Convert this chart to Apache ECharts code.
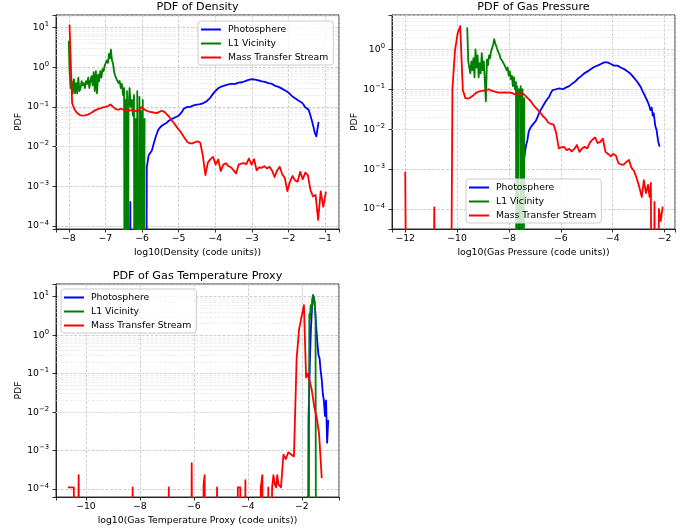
<!DOCTYPE html>
<html><head><meta charset="utf-8">
<script src="https://cdn.jsdelivr.net/npm/echarts@6/dist/echarts.min.js"></script>
<style>html,body{margin:0;padding:0;background:#fff}#c{width:698px;height:529px}</style>
</head><body><div id="c"></div>
<script>
// ---------------- DATA ----------------
const seriesNames = ['Photosphere', 'L1 Vicinity', 'Mass Transfer Stream'];
const panelTitles = ['PDF of Density', 'PDF of Gas Pressure', 'PDF of Gas Temperature Proxy'];
const xAxisNames = ['log10(Density (code units))', 'log10(Gas Pressure (code units))', 'log10(Gas Temperature Proxy (code units))'];

// Density panel: [log10 value, PDF]; PDF 0 = empty bin
const densityPhotosphere = [
  [-6.36,0],[-6.32,0.0004],[-6.28,0],[-5.90,0],[-5.87,0.003],[-5.82,0.006],[-5.78,0.0055],[-5.73,0.008],
  [-5.68,0.012],[-5.64,0.016],[-5.59,0.022],[-5.55,0.027],[-5.50,0.031],[-5.45,0.034],[-5.41,0.036],
  [-5.36,0.038],[-5.32,0.04],[-5.27,0.045],[-5.23,0.05],[-5.18,0.05],[-5.14,0.053],[-5.09,0.055],
  [-5.05,0.058],[-5.00,0.06],[-4.95,0.065],[-4.91,0.075],[-4.86,0.09],[-4.82,0.1],[-4.77,0.1],
  [-4.73,0.105],[-4.68,0.1],[-4.64,0.102],[-4.59,0.11],[-4.55,0.108],[-4.50,0.115],[-4.45,0.12],
  [-4.41,0.118],[-4.36,0.12],[-4.32,0.125],[-4.27,0.13],[-4.23,0.14],[-4.18,0.155],[-4.14,0.17],
  [-4.09,0.19],[-4.05,0.22],[-4.00,0.25],[-3.95,0.27],[-3.91,0.3],[-3.86,0.32],[-3.82,0.33],
  [-3.77,0.34],[-3.73,0.35],[-3.68,0.36],[-3.64,0.37],[-3.59,0.37],[-3.55,0.38],[-3.50,0.37],
  [-3.45,0.38],[-3.41,0.4],[-3.36,0.41],[-3.32,0.42],[-3.27,0.42],[-3.23,0.44],[-3.18,0.45],
  [-3.14,0.47],[-3.09,0.48],[-3.05,0.49],[-3.00,0.5],[-2.95,0.5],[-2.91,0.49],[-2.86,0.48],
  [-2.82,0.47],[-2.77,0.46],[-2.73,0.44],[-2.68,0.44],[-2.64,0.43],[-2.59,0.42],[-2.55,0.4],
  [-2.50,0.39],[-2.45,0.38],[-2.41,0.36],[-2.36,0.34],[-2.32,0.33],[-2.27,0.32],[-2.23,0.31],
  [-2.18,0.29],[-2.14,0.27],[-2.09,0.26],[-2.05,0.25],[-2.00,0.23],[-1.95,0.21],[-1.91,0.19],
  [-1.86,0.18],[-1.82,0.165],[-1.77,0.155],[-1.73,0.145],[-1.68,0.14],[-1.64,0.13],[-1.59,0.115],
  [-1.55,0.1],[-1.50,0.095],[-1.45,0.085],[-1.41,0.065],[-1.36,0.045],[-1.32,0.032],[-1.28,0.022],
  [-1.24,0.018],[-1.18,0.04]
];
const densityL1 = [
  [-8.00,4.5],[-7.98,0.8],[-7.95,0.3],[-7.92,0.45],[-7.89,0.22],[-7.86,0.5],[-7.83,0.22],[-7.80,0.4],
  [-7.77,0.22],[-7.74,0.55],[-7.71,0.25],[-7.68,0.3],[-7.65,0.45],[-7.62,0.35],[-7.59,0.4],[-7.56,0.3],
  [-7.53,0.45],[-7.50,0.38],[-7.47,0.55],[-7.44,0.3],[-7.41,0.45],[-7.38,0.6],[-7.35,0.35],[-7.32,0.75],
  [-7.29,0.25],[-7.26,0.8],[-7.23,0.22],[-7.20,0.65],[-7.17,0.45],[-7.14,0.8],[-7.11,0.55],[-7.08,0.9],
  [-7.05,0.8],[-7.02,1.1],[-6.99,1.0],[-6.96,1.5],[-6.93,1.3],[-6.90,2.2],[-6.87,1.7],[-6.85,2.8],
  [-6.82,1.5],[-6.79,1.2],[-6.76,0.75],[-6.73,0.6],[-6.70,0.55],[-6.67,0.45],[-6.64,0.4],[-6.61,0.45],
  [-6.58,0.3],[-6.55,0.38],[-6.52,0.2],[-6.49,0.3],[-6.47,0],[-6.45,0.15],[-6.43,0],[-6.41,0.25],
  [-6.39,0],[-6.37,0.08],[-6.34,0.3],[-6.31,0.1],[-6.28,0.15],[-6.25,0.06],[-6.22,0.2],[-6.20,0],
  [-6.17,0.05],[-6.15,0],[-6.13,0.25],[-6.10,0],[-6.07,0.18],[-6.05,0],[-6.02,0.08],[-6.00,0],
  [-5.98,0.15],[-5.96,0],[-5.93,0.05]
];
const densityStream = [
  [-7.98,11.5],[-7.91,0.125],[-7.84,0.085],[-7.77,0.07],[-7.70,0.062],[-7.63,0.06],[-7.56,0.061],
  [-7.49,0.064],[-7.42,0.068],[-7.35,0.075],[-7.28,0.082],[-7.21,0.088],[-7.14,0.092],[-7.07,0.098],
  [-7.00,0.1],[-6.93,0.105],[-6.86,0.115],[-6.79,0.1],[-6.72,0.088],[-6.65,0.085],[-6.58,0.09],
  [-6.51,0.086],[-6.44,0.082],[-6.37,0.08],[-6.30,0.083],[-6.23,0.08],[-6.16,0.079],[-6.09,0.08],
  [-6.02,0.1],[-5.95,0.088],[-5.88,0.08],[-5.81,0.076],[-5.74,0.074],[-5.67,0.072],[-5.60,0.07],
  [-5.53,0.075],[-5.46,0.08],[-5.39,0.075],[-5.32,0.065],[-5.25,0.055],[-5.18,0.045],[-5.11,0.037],
  [-5.04,0.03],[-4.97,0.025],[-4.90,0.02],[-4.83,0.016],[-4.76,0.013],[-4.69,0.012],[-4.62,0.012],
  [-4.55,0.013],[-4.48,0.0135],[-4.41,0.0125],[-4.34,0.006],[-4.27,0.0019],[-4.20,0.004],[-4.13,0.0048],
  [-4.06,0.0055],[-3.99,0.0035],[-3.92,0.0047],[-3.85,0.0024],[-3.78,0.0035],[-3.71,0.0038],
  [-3.64,0.0032],[-3.57,0.003],[-3.50,0.0025],[-3.43,0.0021],[-3.36,0.0035],[-3.29,0.0037],
  [-3.22,0.0038],[-3.15,0.0036],[-3.08,0.005],[-3.01,0.0035],[-2.94,0.0048],[-2.87,0.0025],
  [-2.80,0.003],[-2.73,0.0029],[-2.66,0.0032],[-2.59,0.0028],[-2.52,0.0031],[-2.45,0.0025],
  [-2.38,0.0017],[-2.31,0.0025],[-2.24,0.0031],[-2.17,0.002],[-2.10,0.0016],[-2.03,0.00075],
  [-1.96,0.0013],[-1.89,0.0018],[-1.82,0.0014],[-1.75,0.0013],[-1.68,0.0023],[-1.61,0.0015],
  [-1.54,0.0022],[-1.47,0.0019],[-1.40,0.0008],[-1.33,0.00055],[-1.26,0.0006],[-1.19,0.00014],
  [-1.12,0.00074],[-1.05,0.0003],[-0.98,0.0007]
];

// Gas pressure panel
const pressurePhotosphere = [
  [-7.62,0],[-7.58,0.0002],[-7.53,0],[-7.48,0],[-7.45,0.0008],[-7.42,0.0017],[-7.38,0.0027],[-7.34,0.004],
  [-7.29,0.0053],[-7.24,0.0087],[-7.17,0.011],[-7.10,0.0126],[-7.03,0.014],[-6.97,0.016],[-6.90,0.02],
  [-6.84,0.025],[-6.78,0.03],[-6.71,0.036],[-6.65,0.042],[-6.58,0.05],[-6.52,0.057],[-6.45,0.065],
  [-6.39,0.08],[-6.32,0.095],[-6.26,0.09],[-6.19,0.1],[-6.13,0.1],[-6.06,0.105],[-6.00,0.095],
  [-5.93,0.1],[-5.87,0.1],[-5.81,0.11],[-5.74,0.115],[-5.68,0.12],[-5.62,0.127],[-5.55,0.14],
  [-5.49,0.15],[-5.43,0.16],[-5.36,0.18],[-5.30,0.2],[-5.23,0.21],[-5.17,0.23],[-5.10,0.25],
  [-5.04,0.27],[-4.97,0.28],[-4.91,0.3],[-4.84,0.32],[-4.78,0.33],[-4.72,0.36],[-4.66,0.37],
  [-4.59,0.39],[-4.53,0.41],[-4.46,0.43],[-4.40,0.45],[-4.33,0.47],[-4.27,0.48],[-4.20,0.47],
  [-4.14,0.45],[-4.07,0.43],[-4.01,0.4],[-3.95,0.39],[-3.88,0.4],[-3.82,0.39],[-3.75,0.37],
  [-3.69,0.35],[-3.62,0.34],[-3.56,0.32],[-3.49,0.3],[-3.43,0.28],[-3.36,0.26],[-3.30,0.24],
  [-3.23,0.22],[-3.17,0.19],[-3.10,0.17],[-3.04,0.15],[-2.98,0.13],[-2.91,0.11],[-2.85,0.09],
  [-2.79,0.075],[-2.72,0.06],[-2.66,0.05],[-2.60,0.04],[-2.55,0.03],[-2.50,0.035],[-2.46,0.022],
  [-2.42,0.025],[-2.36,0.012],[-2.31,0.0095],[-2.25,0.005],[-2.20,0.0038]
];
const pressureL1 = [
  [-9.61,3.4],[-9.57,0.5],[-9.53,0.35],[-9.49,0.25],[-9.45,0.5],[-9.41,0.3],[-9.37,0.6],[-9.33,0.2],
  [-9.29,1.0],[-9.25,0.35],[-9.21,0.7],[-9.17,0.2],[-9.13,0.45],[-9.09,0.25],[-9.05,0.8],[-9.01,0.3],
  [-8.97,0.5],[-8.93,0.15],[-8.89,0.05],[-8.85,0.55],[-8.81,0.4],[-8.77,0.7],[-8.73,0.6],[-8.69,0.9],
  [-8.65,0.85],[-8.61,1.3],[-8.57,1.8],[-8.53,1.4],[-8.49,1.2],[-8.45,1.0],[-8.41,0.85],[-8.37,0.75],
  [-8.33,0.6],[-8.29,0.65],[-8.25,0.5],[-8.21,0.55],[-8.17,0.4],[-8.13,0.42],[-8.09,0.3],[-8.05,0.35],
  [-8.01,0.22],[-7.97,0.28],[-7.93,0.18],[-7.89,0.22],[-7.85,0.12],[-7.81,0.2],[-7.77,0.1],[-7.73,0.15],
  [-7.71,0],[-7.69,0.12],[-7.66,0],[-7.62,0.1],[-7.58,0.06],[-7.55,0.12],[-7.51,0],[-7.48,0.1],
  [-7.45,0],[-7.41,0.06]
];
const pressureStream = [
  [-12.00,0.00083],[-11.90,0],[-10.98,0],[-10.88,0.00011],[-10.78,0],[-10.28,0],[-10.18,0.105],
  [-10.08,0.96],[-9.98,2.5],[-9.88,3.8],[-9.78,0.095],[-9.68,0.06],[-9.58,0.058],[-9.48,0.063],
  [-9.38,0.07],[-9.28,0.08],[-9.18,0.087],[-9.08,0.09],[-8.98,0.092],[-8.88,0.095],[-8.78,0.1],
  [-8.68,0.092],[-8.58,0.088],[-8.48,0.085],[-8.38,0.082],[-8.28,0.082],[-8.18,0.083],[-8.08,0.082],
  [-7.98,0.084],[-7.88,0.08],[-7.78,0.075],[-7.68,0.08],[-7.58,0.075],[-7.48,0.08],[-7.38,0.07],
  [-7.28,0.06],[-7.18,0.052],[-7.08,0.042],[-6.98,0.035],[-6.88,0.03],[-6.78,0.025],[-6.68,0.021],
  [-6.58,0.018],[-6.48,0.0145],[-6.38,0.0135],[-6.28,0.013],[-6.18,0.008],[-6.08,0.0033],
  [-5.98,0.0035],[-5.88,0.0036],[-5.78,0.003],[-5.68,0.0032],[-5.58,0.0028],[-5.48,0.0032],
  [-5.38,0.004],[-5.28,0.0027],[-5.18,0.0033],[-5.08,0.0036],[-4.98,0.0033],[-4.88,0.0046],
  [-4.78,0.0055],[-4.68,0.0062],[-4.58,0.0045],[-4.48,0.0048],[-4.38,0.0058],[-4.28,0.0027],
  [-4.18,0.0024],[-4.08,0.0021],[-3.98,0.0024],[-3.88,0.0022],[-3.78,0.0014],[-3.68,0.0013],
  [-3.58,0.0013],[-3.48,0.0015],[-3.38,0.0017],[-3.28,0.0011],[-3.18,0.0009],[-3.08,0.0006],
  [-2.98,0.00036],[-2.88,0.0002],[-2.80,0.00053],[-2.72,0.00025],[-2.64,0.0004],[-2.58,0.0002],
  [-2.53,0.00045],[-2.47,0],[-2.39,0.00015],[-2.31,0],[-2.22,0.0001],[-2.15,0.00005],[-2.08,0.00011]
];

// Gas temperature proxy panel
const temperaturePhotosphere = [
  [-1.79,0],[-1.75,0.007],[-1.70,0.2],[-1.66,1.5],[-1.62,5],[-1.58,11],[-1.54,9],[-1.50,4],[-1.46,1.5],
  [-1.42,0.6],[-1.38,0.3],[-1.34,0.25],[-1.30,0.12],[-1.26,0.07],[-1.22,0.03],[-1.18,0.02],
  [-1.14,0.008],[-1.10,0.02],[-1.06,0.0016],[-1.02,0.006]
];
const temperatureL1 = [
  [-1.76,0],[-1.72,3.5],[-1.70,2.5],[-1.67,6],[-1.64,4],[-1.61,9],[-1.58,11],[-1.55,10],[-1.52,7],
  [-1.49,3],[-1.46,0]
];
const temperatureStream = [
  [-10.64,0.00011],[-10.55,0.00011],[-10.45,0.00011],[-10.38,0],[-10.32,0],[-10.27,0.00023],[-10.20,0],
  [-8.32,0],[-8.27,0.00011],[-8.22,0],[-6.98,0],[-6.93,0.00011],[-6.88,0],[-6.13,0],[-6.08,0.00047],
  [-6.03,0],[-5.68,0],[-5.64,0.00013],[-5.60,0.00023],[-5.55,0],[-5.19,0],[-5.14,0.00011],[-5.09,0],
  [-4.42,0],[-4.37,0.00011],[-4.28,0.00011],[-4.23,0],[-4.14,0],[-4.09,0.00017],[-4.04,0],[-3.58,0],
  [-3.52,0.00011],[-3.46,0.00023],[-3.40,0],[-3.30,0],[-3.24,0.00011],[-3.18,0],[-3.10,0.00011],
  [-3.05,0.00023],[-3.00,0.00013],[-2.95,0.00011],[-2.91,0.00023],[-2.86,0.00013],[-2.77,0.00011],
  [-2.68,0.00078],[-2.59,0.0006],[-2.50,0.0009],[-2.41,0.0008],[-2.36,0.0009],[-2.29,0.0007],
  [-2.19,0.25],[-2.10,1.4],[-2.01,3.0],[-1.92,6.0],[-1.84,0.08],[-1.78,0.1],[-1.72,0.07],
  [-1.63,0.038],[-1.54,0.014],[-1.45,0.0075],[-1.36,0.0028],[-1.26,0.0002]
];

// axis limits (x in log10 units, y as PDF values)
const xLimits = [[-8.35, -0.62], [-12.51, -1.6], [-11.11, -0.62]];
const yLimits = [[8.3e-5, 20.9], [3.16e-5, 7.24], [6.2e-5, 21.4]];
const xSplitNumbers = [8, 5, 5];

// ---------------- CHART ----------------
const FONT = 'DejaVu Sans';
const colors = ['#0000ff', '#008000', '#ff0000'];
const EMPTY = 1e-12; // empty bins fall below the log axis
const panels = [
  [densityPhotosphere, densityL1, densityStream],
  [pressurePhotosphere, pressureL1, pressureStream],
  [temperaturePhotosphere, temperatureL1, temperatureStream]
];
const grids = [
  {left: 56, top: 15, width: 283, height: 214},
  {left: 392, top: 15, width: 283, height: 214},
  {left: 56, top: 284, width: 283, height: 213}
];
const legendPos = [
  {left: 198, top: 21},
  {left: 466, top: 179},
  {left: 61, top: 289}
];
const titleTops = [1.5, 1.5, 270.5];

function minus(n) { return n < 0 ? '\u2212' + Math.abs(n) : String(n); }
function xFmt(v) {
  const r = Math.round(v);
  return Math.abs(v - r) > 1e-6 ? '' : minus(r);
}
function yFmt(v) {
  const e = Math.log10(v);
  const r = Math.round(e);
  if (Math.abs(e - r) > 1e-6) return '';
  return '{b|10}{s|' + minus(r) + '}';
}

const option = {
  animation: false,
  backgroundColor: '#fff',
  title: panelTitles.map((t, i) => ({
    text: t,
    left: grids[i].left + grids[i].width / 2,
    top: titleTops[i],
    textAlign: 'center',
    padding: 0,
    textStyle: {fontFamily: FONT, fontSize: 11.2, fontWeight: 'normal', color: '#000'}
  })),
  grid: grids.map(g => Object.assign({show: true, borderColor: '#000', borderWidth: 0.8, containLabel: false}, g)),
  legend: legendPos.map((p, i) => ({
    data: seriesNames,
    orient: 'vertical',
    left: p.left, top: p.top,
    icon: 'rect', itemWidth: 20, itemHeight: 2, itemGap: 3,
    padding: [3, 5, 2, 3],
    backgroundColor: 'rgba(255,255,255,0.8)',
    borderColor: '#cccccc', borderWidth: 1, borderRadius: 3,
    selectedMode: false,
    textStyle: {fontFamily: FONT, fontSize: 9.3, color: '#000', lineHeight: 11, padding: [0, 0, 0, 2]},
    z: 10
  })),
  xAxis: xLimits.map((lim, i) => ({
    type: 'value', gridIndex: i, min: lim[0], max: lim[1], splitNumber: xSplitNumbers[i],
    name: xAxisNames[i], nameLocation: 'middle', nameGap: 19,
    nameTextStyle: {fontFamily: FONT, fontSize: 9.3, color: '#000'},
    axisLine: {show: true, onZero: false, lineStyle: {color: '#000', width: 0.8}},
    axisTick: {show: true, length: 3.5, lineStyle: {color: '#000', width: 0.8}},
    axisLabel: {formatter: xFmt, margin: 5, fontFamily: FONT, fontSize: 9.3, color: '#000'},
    splitLine: {show: true, lineStyle: {color: '#c4c4c4', width: 0.8, type: [3, 1.5]}}
  })),
  yAxis: yLimits.map((lim, i) => ({
    type: 'log', logBase: 10, gridIndex: i, min: lim[0], max: lim[1],
    name: 'PDF', nameLocation: 'middle', nameGap: 32,
    nameTextStyle: {fontFamily: FONT, fontSize: 9.3, color: '#000'},
    axisLine: {show: true, lineStyle: {color: '#000', width: 0.8}},
    axisTick: {show: true, length: 3.5, lineStyle: {color: '#000', width: 0.8}},
    axisLabel: {
      formatter: yFmt, margin: 7, color: '#000',
      rich: {
        b: {fontFamily: FONT, fontSize: 9.3, color: '#000'},
        s: {fontFamily: FONT, fontSize: 6.8, color: '#000', padding: [0, 0, 6, 0]}
      }
    },
    splitLine: {show: true, lineStyle: {color: '#c4c4c4', width: 0.8, type: [3, 1.5]}}
  })),
  series: []
};

// minor gridlines at 2..9 x 10^k through the library's log scale (markLine, kept beneath the data)
panels.forEach((p, i) => {
  const minors = [];
  for (let k = -6; k <= 2; k++) {
    for (let d = 2; d <= 9; d++) {
      const v = d * Math.pow(10, k);
      if (v > yLimits[i][0] && v < yLimits[i][1]) minors.push({yAxis: v});
    }
  }
  option.series.push({
    type: 'line', xAxisIndex: i, yAxisIndex: i, data: [], silent: true, z: 1,
    markLine: {
      silent: true, symbol: 'none', label: {show: false}, animation: false, z: 1,
      lineStyle: {color: '#e0e0e0', width: 0.6, type: [3, 1.5]},
      emphasis: {disabled: true},
      data: minors
    }
  });
});

panels.forEach((p, i) => {
  p.forEach((arr, j) => {
    option.series.push({
      type: 'line', name: seriesNames[j], xAxisIndex: i, yAxisIndex: i,
      data: arr.map(d => [d[0], d[1] > 0 ? d[1] : EMPTY]),
      symbol: 'none', showSymbol: false, clip: true, z: 3,
      color: colors[j],
      lineStyle: {color: colors[j], width: 1.8, cap: 'round', join: 'round', type: 'solid'},
      emphasis: {disabled: true}
    });
  });
});

const chart = echarts.init(document.getElementById('c'), null, {renderer: 'canvas'});
chart.setOption(option);
</script></body></html>
